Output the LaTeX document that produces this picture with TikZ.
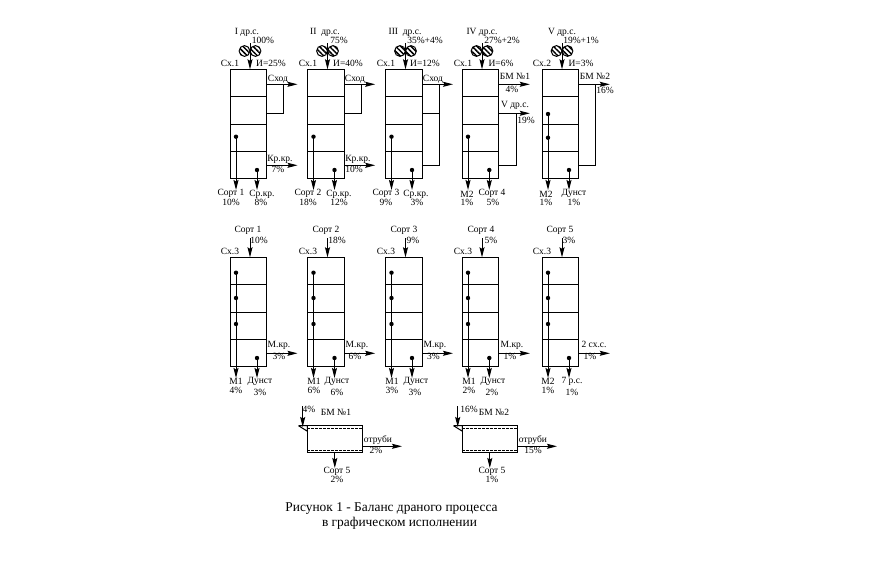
\documentclass[tikz,border=0pt]{standalone}
\usepackage{fontspec}
\setmainfont{Liberation Serif}
\usepackage{xcolor}
\usepackage{tikz}
\usetikzlibrary{arrows.meta, patterns.meta}

\tikzset{
  sievebox/.style={draw, anchor=north west, outer sep=0pt, minimum width=36.5pt, minimum height=109pt, inner sep=0pt},
  millbox/.style={draw, anchor=north west, outer sep=0pt, minimum width=55pt, minimum height=26.5pt, inner sep=0pt},
  flow/.style={-{Stealth[length=10pt,width=5pt,inset=1.5pt]}},
  lbl/.style={font=\fontsize{9.5}{10}\selectfont, inner sep=0pt, text height=8pt, text depth=2pt},
  captext/.style={font=\fontsize{13.4}{14}\selectfont, inner sep=0pt, anchor=base},
  rollhatch/.style={pattern={Lines[angle=-45,distance=3.6pt,line width=1.5pt]}}
}

% box with four decks
\newcommand{\sieve}[3]{
  \node[sievebox] (#1) at (#2,#3) {};
  \foreach \k in {27,55,82} {
    \draw (#2,#3+\k) -- (#2+36.5,#3+\k);
  }
}
% pair of rolls above a box
\newcommand{\rolls}[2]{
  \draw[rollhatch] (#1-5.5,#2) circle (5.4pt);
  \draw[rollhatch] (#1+5.5,#2) circle (5.4pt);
}

\begin{document}
\begin{tikzpicture}[x=1pt,y=-1pt,line width=1pt]
  \useasboundingbox (0,0) rectangle (890,562);
  \fill[white] (0,0) rectangle (890,562);

  % first row
  \sieve{drA}{230}{69.3}
  \sieve{drB}{307.7}{69.3}
  \sieve{drC}{385.5}{69.3}
  \sieve{drD}{462.3}{69.3}
  \sieve{drE}{542.3}{69.3}
  \foreach \x/\n in {250/drA,327.5/drB,405.5/drC,482/drD,562/drE} {
    \rolls{\x}{51}
    \coordinate (in\n) at (\x,43);
    \draw[flow] (in\n) -- (in\n |- \n.north);
  }

  % side outlets, first row
  \foreach \n/\t in {drA/a,drB/b,drC/c,drD/d,drE/e} {
    \coordinate (top\t) at ([yshift=-15pt]\n.north east);
    \coordinate (mid\t) at ([yshift=-44pt]\n.north east);
    \coordinate (low\t) at ([yshift=-96pt]\n.north east);
    \draw[flow] (top\t) -- ++(31,0);
  }
  \draw (283.3,84.3) -- (283.3,113.3) -- (mida);
  \draw (361.3,84.3) -- (361.3,113.3) -- (midb);
  \draw[flow] (lowa) -- ++(31,0);
  \draw[flow] (lowb) -- ++(31,0);
  \draw (439.3,84.3) -- (439.3,165.3) -- (lowc);
  \draw (midc) -- (439.3,113.3);
  \draw[flow] (midd) -- ++(31,0);
  \draw (516.3,113.3) -- (516.3,165.3) -- (lowd);
  \draw (595.3,84.3) -- (595.3,165.3) -- (lowe);

  % deck outlets, first row
  \foreach \x/\y [count=\i] in {236/136.7,313.5/136.7,391.5/136.7,468/136.7,548/114,
                                257/170,334.5/170,412/170,489.3/170,569/170} {
    \coordinate (ou\i) at (\x,\y);
    \coordinate (oe\i) at (\x,190);
    \fill (ou\i) circle (2.2pt);
    \draw[flow] (ou\i) -- (oe\i);
  }
  \fill (548,137.7) circle (2.2pt);

  % second row
  \sieve{sxA}{230}{257.3}
  \sieve{sxB}{307.7}{257.3}
  \sieve{sxC}{385.5}{257.3}
  \sieve{sxD}{462.3}{257.3}
  \sieve{sxE}{542.3}{257.3}
  \foreach \x/\n in {250/sxA,327.5/sxB,405.5/sxC,482/sxD,562/sxE} {
    \coordinate (in\n) at (\x,238);
    \draw[flow] (in\n) -- (in\n |- \n.north);
    \coordinate (side\n) at ([yshift=-96pt]\n.north east);
    \draw[flow] (side\n) -- ++(31,0);
  }
  \foreach \x [count=\i] in {236,313.5,391.5,468,548} {
    \coordinate (sa\i) at (\x,272.7);
    \coordinate (sb\i) at (\x,378);
    \draw[flow] (sa\i) -- (sb\i);
    \foreach \y in {272.7,298,324} { \fill (\x,\y) circle (2.2pt); }
  }
  \foreach \x [count=\i] in {257,334.5,412,489.3,569} {
    \coordinate (ta\i) at (\x,358);
    \coordinate (tb\i) at (\x,378);
    \fill (ta\i) circle (2.2pt);
    \draw[flow] (ta\i) -- (tb\i);
  }

  % break rolls
  \foreach \n/\x/\r in {bmA/307.3/402,bmB/462.3/557} {
    \node[millbox] (\n) at (\x,425.7) {};
    \draw[dash pattern=on 3pt off 1pt, line width=0.7pt] (\x,428) -- (\x+55,428);
    \draw[dash pattern=on 3pt off 1pt, line width=0.7pt] (\x,450) -- (\x+55,450);
    \coordinate (in\n) at (\x-4.6,406);
    \coordinate (tr\n) at (\x-8.8,425.7);
    \coordinate (out\n) at (\r,446.3);
    \coordinate (dn\n) at (\x+27.5,468);
    \draw[flow] (in\n) -- ++(0,21);
    \draw (tr\n) -- (\n.north west) -- ++(0,5.5) -- (tr\n);
    \draw[flow] (\n.east |- out\n) -- (out\n);
    \draw[flow] (\n.south -| dn\n) -- (dn\n);
  }

  % labels
  \foreach \x/\y/\t [count=\i] in {
    247/31/I др.с., 263/40/100\%, 230/63.5/Сх.1, 271/63.5/И=25\%, 278/78/Сход,
    280/158/Кр.кр., 278/169.5/7\%, 231/192.5/Сорт 1, 231/202/10\%, 262/193.5/Ср.кр., 261/202/8\%,
    325/31/II\ \ др.с., 339/40/75\%, 308/63.5/Сх.1, 348/63.5/И=40\%, 355/78/Сход,
    358/158/Кр.кр., 354/169.5/10\%, 308/192.5/Сорт 2, 308/202/18\%, 339/193.5/Ср.кр., 339/202/12\%,
    405/31/III\ \ др.с., 425/40/35\%+4\%, 386/63.5/Сх.1, 425/63.5/И=12\%, 433/78/Сход,
    386/192.5/Сорт 3, 386/202/9\%, 416/193.5/Ср.кр., 417/202/3\%,
    482/31/IV др.с., 502/40/27\%+2\%, 463/63.5/Сх.1, 501/63.5/И=6\%, 515/76.3/БМ №1, 512/89.7/4\%,
    515/104.7/V др.с., 526/120.3/19\%, 467/194.7/М2, 467/202.7/1\%, 492/192.3/Сорт 4, 493/202.7/5\%,
    562/31/V др.с., 581/40/19\%+1\%, 542/63.5/Сх.2, 581/63.5/И=3\%, 595/76.3/БМ №2, 605/90.3/16\%,
    546/194.7/М2, 546/202.7/1\%, 574/192/Дунст, 574/202.7/1\%
  } {
    \node[lbl] (up\i) at (\x,\y) {\t};
  }
  \foreach \x/\y/\t [count=\i] in {
    248/229.5/Сорт 1, 259/240/10\%, 230/251.5/Сх.3, 279/344.7/М.кр., 279/356/3\%, 236/381.5/М1, 236/390.7/4\%, 260/380.5/Дунст, 260/392/3\%,
    326/229.5/Сорт 2, 337/240/18\%, 308/251.5/Сх.3, 357/344.7/М.кр., 355/356/6\%, 314/381.5/М1, 314/390.7/6\%, 337/380.5/Дунст, 337/392/6\%,
    404/229.5/Сорт 3, 413/240/9\%, 386/251.5/Сх.3, 435/344.7/М.кр., 433.5/356/3\%, 392/381.5/М1, 392/390.7/3\%, 416/380.5/Дунст, 415/392/3\%,
    481/229.5/Сорт 4, 491/240/5\%, 463/251.5/Сх.3, 512/344.7/М.кр., 510/356/1\%, 469/381.5/М1, 469/390.7/2\%, 493/380.5/Дунст, 492/392/2\%,
    560/229.5/Сорт 5, 569/240/3\%, 542/251.5/Сх.3, 594/344.7/2 сх.с., 590/356/1\%, 548/381.5/М2, 548/390.7/1\%, 572/380.5/7 р.с., 572/392/1\%,
    309/409.3/4\%, 336/412.7/БМ №1, 378/439.7/отруби, 376/450.7/2\%, 337/470/Сорт 5, 337/479.7/2\%,
    469/409.3/16\%, 494/412.7/БМ №2, 533/439.7/отруби, 533/450.7/15\%, 492/470/Сорт 5, 492/479.7/1\%
  } {
    \node[lbl] (dn\i) at (\x,\y) {\t};
  }
  \node[captext] (capa) at (391.5,511.7) {Рисунок 1 - Баланс драного процесса};
  \node[captext] (capb) at (399.5,526.7) {в графическом исполнении};
\end{tikzpicture}
\end{document}
